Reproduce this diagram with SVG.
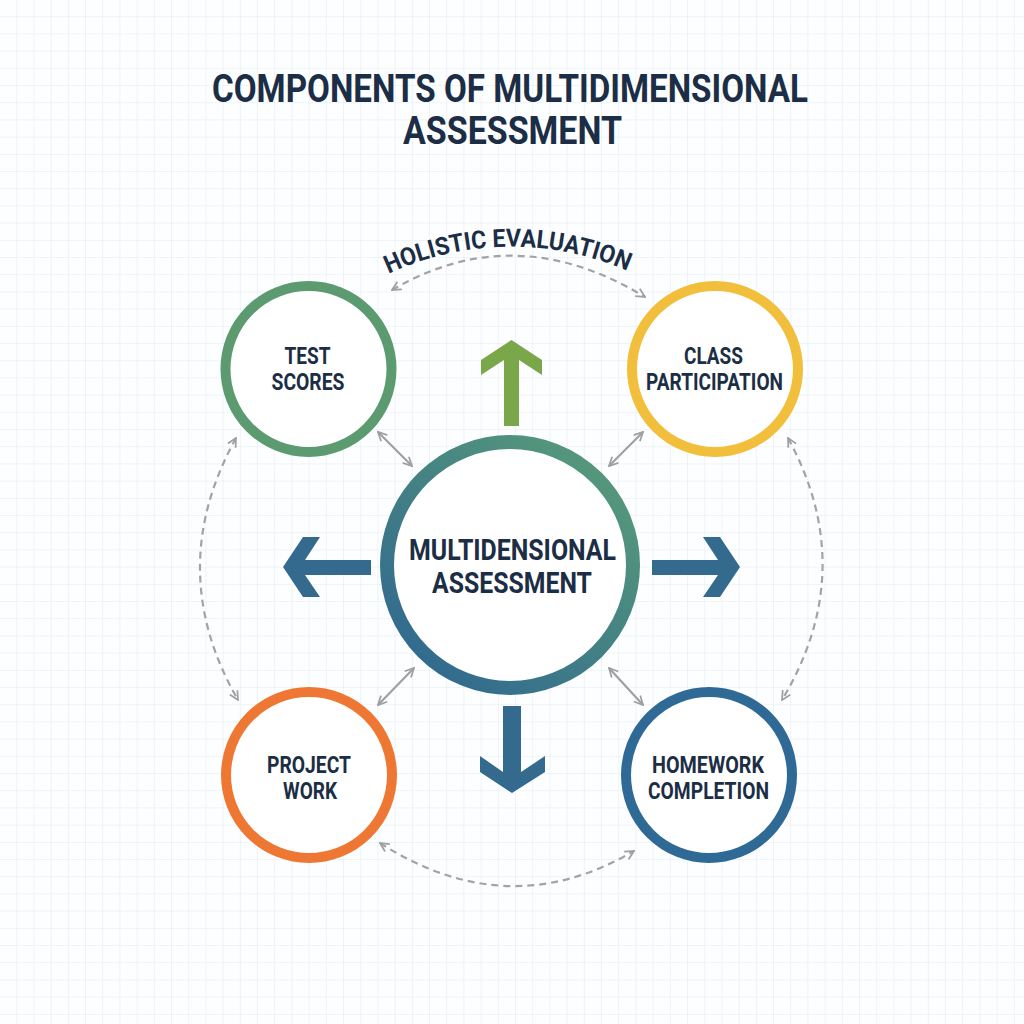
<svg xmlns="http://www.w3.org/2000/svg" width="1024" height="1024" viewBox="0 0 1024 1024">
<defs>
<style>
.t{font-family:Roboto,"Liberation Sans",sans-serif;font-weight:700;fill:#1C2E45;text-anchor:middle}
.node{fill:#fff;stroke-width:10}
.dash{fill:none;stroke:#A3A3A3;stroke-width:2.2;stroke-dasharray:7 5}
.solid{fill:none;stroke:#A0A0A0;stroke-width:2.2}
.big{stroke:none}
</style>
<pattern id="grid" width="17.2" height="17.2" patternUnits="userSpaceOnUse" x="0" y="0">
<path d="M17.2 0V17.2M0 17.2H17.2" fill="none" stroke="#E2E9F0" stroke-width="1"/>
</pattern>
<marker id="ah" viewBox="0 0 10 10" refX="9" refY="5" markerWidth="5" markerHeight="5" orient="auto-start-reverse" markerUnits="strokeWidth">
<path d="M1 1L9 5L1 9" fill="none" stroke="#A0A0A0" stroke-width="1.6"/>
</marker>
<linearGradient id="cg" gradientUnits="userSpaceOnUse" x1="620" y1="440" x2="400" y2="690">
<stop offset="0" stop-color="#5A9D79"/>
<stop offset="1" stop-color="#2D6590"/>
</linearGradient>
<path id="arcText" d="M384 276 A 290 290 0 0 1 632 273"/>
</defs>
<rect width="1024" height="1024" fill="#FDFEFF"/>
<rect width="1024" height="1024" fill="url(#grid)"/>

<g id="title">
<text class="t" x="510" y="102" font-size="39" textLength="596" lengthAdjust="spacingAndGlyphs">COMPONENTS OF MULTIDIMENSIONAL</text>
<text class="t" x="512.5" y="144" font-size="39" textLength="219" lengthAdjust="spacingAndGlyphs">ASSESSMENT</text>
</g>

<g id="connectors">
<path class="dash" d="M392 290 Q515 218 645 297" marker-start="url(#ah)" marker-end="url(#ah)"/>
<path class="dash" d="M236 438 Q163 570 238 700" marker-start="url(#ah)" marker-end="url(#ah)"/>
<path class="dash" d="M788 438 Q860 570 782 700" marker-start="url(#ah)" marker-end="url(#ah)"/>
<path class="dash" d="M380 843 Q508 925 634 851" marker-start="url(#ah)" marker-end="url(#ah)"/>
<path class="solid" d="M378 432 L412 466" marker-start="url(#ah)" marker-end="url(#ah)"/>
<path class="solid" d="M643 432 L609 466" marker-start="url(#ah)" marker-end="url(#ah)"/>
<path class="solid" d="M414 668 L378 705" marker-start="url(#ah)" marker-end="url(#ah)"/>
<path class="solid" d="M609 668 L643 705" marker-start="url(#ah)" marker-end="url(#ah)"/>
<polygon class="big" fill="#79A74A" points="511.5,340 542,360 542,375 519,360 519,426 504,426 504,360 481,375 481,360"/>
<polygon class="big" fill="#336A8E" points="283,567 303,537 320,537 305,560 371,560 371,575 305,575 320,597 303,597"/>
<polygon class="big" fill="#336A8E" points="740,567 720,537 703,537 718,560 652,560 652,575 718,575 703,597 720,597"/>
<polygon class="big" fill="#336A8E" points="512,793 545,772 545,756 521,772 521,706 503,706 503,772 480,756 480,772"/>
</g>

<g id="label-holistic">
<text class="t" font-size="25"><textPath href="#arcText" startOffset="50%" textLength="246" lengthAdjust="spacingAndGlyphs">HOLISTIC EVALUATION</textPath></text>
</g>

<g id="node-center">
<circle cx="510" cy="565" r="123" fill="#fff" stroke="url(#cg)" stroke-width="14"/>
<text class="t" x="512.5" y="560" font-size="29" textLength="207" lengthAdjust="spacingAndGlyphs">MULTIDENSIONAL</text>
<text class="t" x="512" y="593" font-size="29" textLength="160" lengthAdjust="spacingAndGlyphs">ASSESSMENT</text>
</g>

<g id="node-test">
<circle class="node" cx="308.5" cy="369" r="83" stroke="#5B9B6F"/>
<text class="t" x="307.5" y="364" font-size="23" textLength="46" lengthAdjust="spacingAndGlyphs">TEST</text>
<text class="t" x="308" y="390" font-size="23" textLength="73" lengthAdjust="spacingAndGlyphs">SCORES</text>
</g>

<g id="node-class">
<circle class="node" cx="715" cy="369" r="83" stroke="#F2BF3C"/>
<text class="t" x="713.5" y="364" font-size="23" textLength="59" lengthAdjust="spacingAndGlyphs">CLASS</text>
<text class="t" x="714.5" y="390" font-size="23" textLength="137" lengthAdjust="spacingAndGlyphs">PARTICIPATION</text>
</g>

<g id="node-project">
<circle class="node" cx="309" cy="775" r="83" stroke="#EE7833"/>
<text class="t" x="309" y="773" font-size="23" textLength="84" lengthAdjust="spacingAndGlyphs">PROJECT</text>
<text class="t" x="310" y="799" font-size="23" textLength="54" lengthAdjust="spacingAndGlyphs">WORK</text>
</g>

<g id="node-homework">
<circle class="node" cx="709" cy="775" r="83" stroke="#2F6995"/>
<text class="t" x="708" y="773" font-size="23" textLength="112" lengthAdjust="spacingAndGlyphs">HOMEWORK</text>
<text class="t" x="708.5" y="799" font-size="23" textLength="121" lengthAdjust="spacingAndGlyphs">COMPLETION</text>
</g>
</svg>
